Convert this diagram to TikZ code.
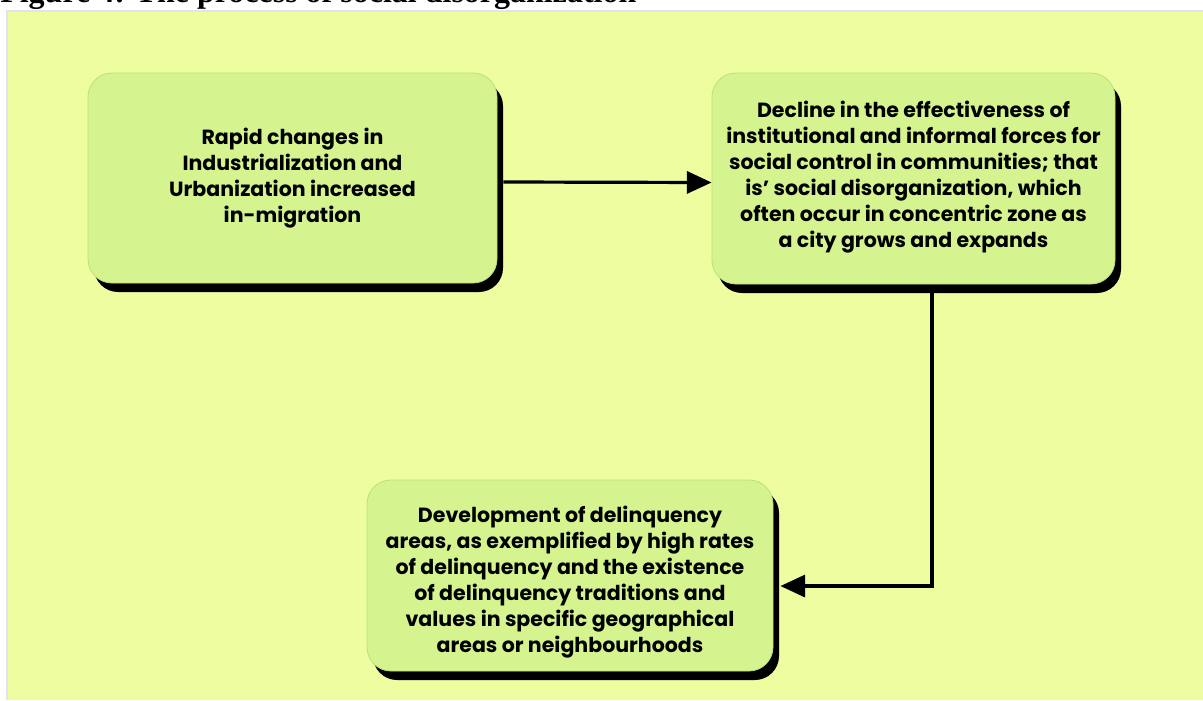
\documentclass[tikz,border=0pt]{standalone}
\usepackage{fontspec}
\setmainfont{Poppins}
\newfontfamily\titlefont{Liberation Serif}
\usetikzlibrary{arrows.meta,shadows}
\definecolor{bgyellow}{RGB}{237,253,160}
\definecolor{boxgreen}{RGB}{213,244,143}
\definecolor{boxedge}{RGB}{185,225,120}
\definecolor{framegray}{RGB}{222,228,240}
\tikzset{
  stepbox/.style={rectangle, rounded corners=18pt, fill=boxgreen, draw=boxedge, line width=0.6pt,
    inner sep=0pt,
    drop shadow={shadow xshift=4.5pt, shadow yshift=-6.75pt, fill=black, opacity=1}},
  boxtext/.style={align=center, font=\bfseries\fontsize{15.4}{19.5}\selectfont, inner sep=0pt},
  flow/.style={line width=2.4pt, -{Triangle[length=18.5pt,width=16.5pt]}}
}
\begin{document}
\begin{tikzpicture}[x=0.75pt,y=-0.75pt]
\useasboundingbox (0,0) rectangle (1203,700);
\fill[white] (0,0) rectangle (1203,700);
\fill[bgyellow] (7,10.5) rectangle (1203,700);
\draw[framegray, line width=1.5pt] (7,700) -- (7,10.5) -- (1203,10.5);
\node[anchor=base west, inner sep=0pt, font=\titlefont\bfseries\fontsize{24}{28}\selectfont] (title) at (0,2) {Figure 4: The process of social disorganization};
\node[stepbox, minimum width=306.75pt, minimum height=157.5pt] (b1) at (292.5,178) {};
\node[boxtext] (t1) at (b1.center)
  {Rapid changes in\\Industrialization and\\Urbanization increased\\in-migration};
\node[stepbox, minimum width=302.25pt, minimum height=158.25pt] (b2) at (913.5,178.5) {};
\node[boxtext] (t2) at ([yshift=1.1pt]b2.center)
  {Decline in the effectiveness of\\institutional and informal forces for\\social control in communities; that\\is' social disorganization, which\\often occur in concentric zone as\\a city grows and expands};
\node[stepbox, minimum width=304.5pt, minimum height=143.25pt] (b3) at (570,575.5) {};
\node[boxtext] (t3) at ([yshift=-4.9pt]b3.center)
  {Development of delinquency\\areas, as exemplified by high rates\\of delinquency and the existence\\of delinquency traditions and\\values in specific geographical\\areas or neighbourhoods};
\draw[flow] ([xshift=4.5pt,yshift=-3pt]b1.east) -- ([yshift=-3pt]b2.west);
\draw[flow] ([xshift=13.9pt,yshift=-6.75pt]b2.south) |- ([xshift=5.25pt,yshift=-7.9pt]b3.east);
\end{tikzpicture}
\end{document}
